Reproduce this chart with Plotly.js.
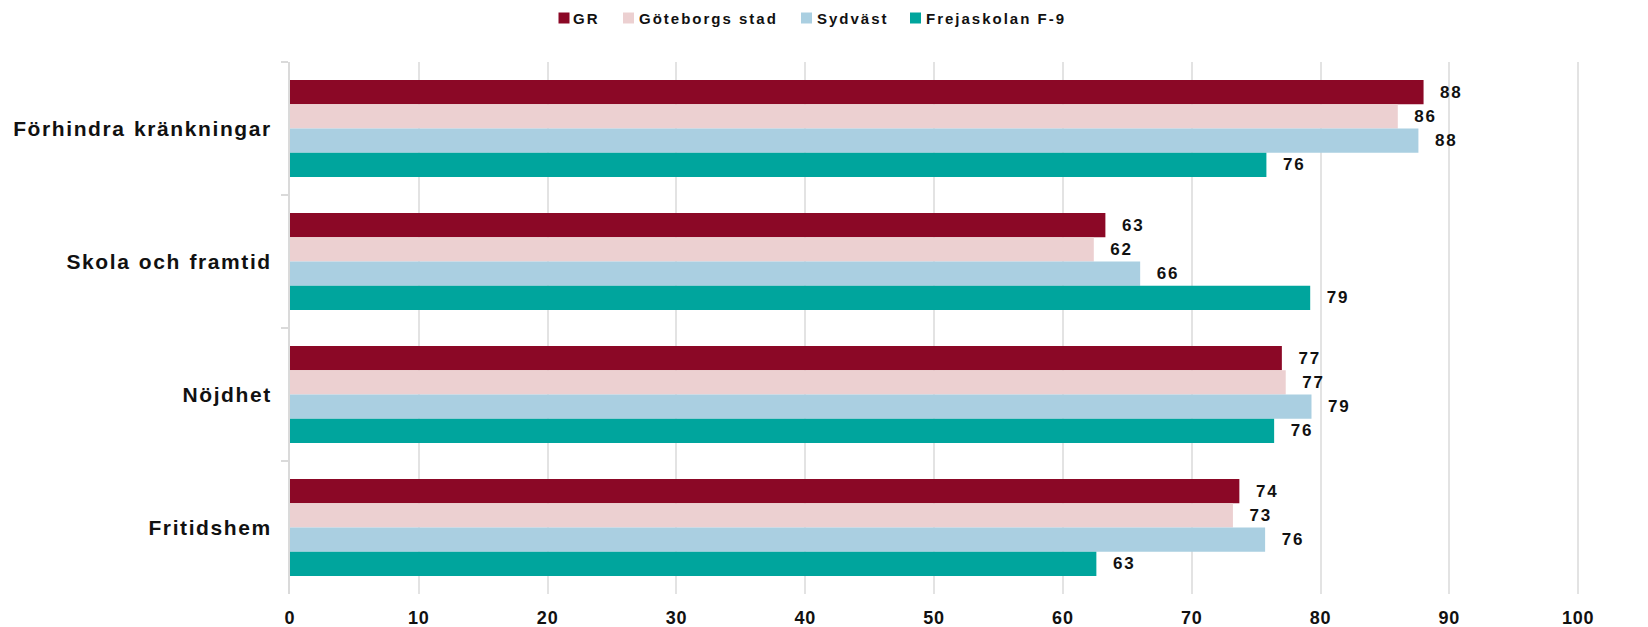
<!DOCTYPE html>
<html>
<head>
<meta charset="utf-8">
<script src="https://cdn.plot.ly/plotly-3.0.1.min.js"></script>
<style>
  html, body { margin: 0; padding: 0; background: #fff; }
  #chart { width: 1648px; height: 627px; }
  .ytick text { letter-spacing: 1.6px; word-spacing: 1px; }
  .xtick text { letter-spacing: 0.8px; }
  .bartext { letter-spacing: 1.8px; }
  .annotation-text { letter-spacing: 2px; }
</style>
</head>
<body>
<div id="chart"></div>
<script>
// ---- data ----
const categories = ['Förhindra kränkningar', 'Skola och framtid', 'Nöjdhet', 'Fritidshem'];
const seriesNames = ['GR', 'Göteborgs stad', 'Sydväst', 'Frejaskolan F-9'];
const grValues = [88.0, 63.3, 77.0, 73.7];
const goteborgValues = [86.0, 62.4, 77.3, 73.2];
const sydvastValues = [87.6, 66.0, 79.3, 75.7];
const frejaValues = [75.8, 79.2, 76.4, 62.6];
const xTickValues = [0, 10, 20, 30, 40, 50, 60, 70, 80, 90, 100];

// ---- style ----
const colors = ['#8B0826', '#ECD0D1', '#AACFE1', '#00A59D'];
const FONT = '"Liberation Sans", Arial, sans-serif';
const W = 1648, H = 627;
const M = { l: 290, r: 66, t: 62, b: 33 };
const PW = W - M.l - M.r, PH = H - M.t - M.b;
const px2x = p => (p - M.l) / PW;
const py2y = p => (H - M.b - p) / PH;

const allValues = [grValues, goteborgValues, sydvastValues, frejaValues];
const traces = allValues.map((vals, i) => ({
  type: 'bar',
  orientation: 'h',
  name: seriesNames[i],
  y: categories,
  x: vals,
  marker: { color: colors[i], line: { width: 0 } },
  texttemplate: '\u2002\u200A%{x:.0f}',
  textposition: 'outside',
  constraintext: 'none',
  cliponaxis: false,
  textfont: { family: FONT, size: 17, color: '#111', weight: 'bold' },
  hoverinfo: 'x+name',
  showlegend: false
}));

// manual legend (positions in pixels -> paper)
const legendItems = [
  { m0: 558.5, t: 572 },
  { m0: 623, t: 637.5 },
  { m0: 801, t: 815.5 },
  { m0: 910, t: 924.5 }
];
const shapes = legendItems.map((it, i) => ({
  type: 'rect', xref: 'paper', yref: 'paper',
  x0: px2x(it.m0), x1: px2x(it.m0 + 11),
  y0: py2y(23.5), y1: py2y(12.5),
  fillcolor: colors[i], line: { width: 0 }
}));
const annotations = legendItems.map((it, i) => ({
  xref: 'paper', yref: 'paper',
  x: px2x(it.t - 1), y: py2y(18),
  xanchor: 'left', yanchor: 'middle',
  text: seriesNames[i], showarrow: false,
  font: { family: FONT, size: 15, color: '#111', weight: 'bold' }
}));

const layout = {
  width: W, height: H,
  margin: M,
  paper_bgcolor: '#fff', plot_bgcolor: '#fff',
  barmode: 'group',
  bargap: 0.27,
  bargroupgap: 0,
  showlegend: false,
  font: { family: FONT, color: '#111' },
  xaxis: {
    range: [0, 100.3],
    tickvals: xTickValues,
    showgrid: true, gridcolor: '#E3E3E3', gridwidth: 2,
    zeroline: false, showline: false, ticks: '',
    tickfont: { family: FONT, size: 18, color: '#111', weight: 'bold' },
    ticklabelstandoff: 11,
    fixedrange: true
  },
  yaxis: {
    type: 'category',
    autorange: 'reversed',
    showgrid: false, zeroline: false,
    showline: true, linecolor: '#DADADA', linewidth: 2,
    ticks: 'outside', tickson: 'boundaries', ticklen: 7, tickwidth: 2, tickcolor: '#DADADA',
    tickfont: { family: FONT, size: 21, color: '#111', weight: 'bold' },
    ticklabelstandoff: 12,
    fixedrange: true
  },
  shapes: shapes,
  annotations: annotations
};

Plotly.newPlot('chart', traces, layout, { displayModeBar: false, staticPlot: true });
</script>
</body>
</html>
